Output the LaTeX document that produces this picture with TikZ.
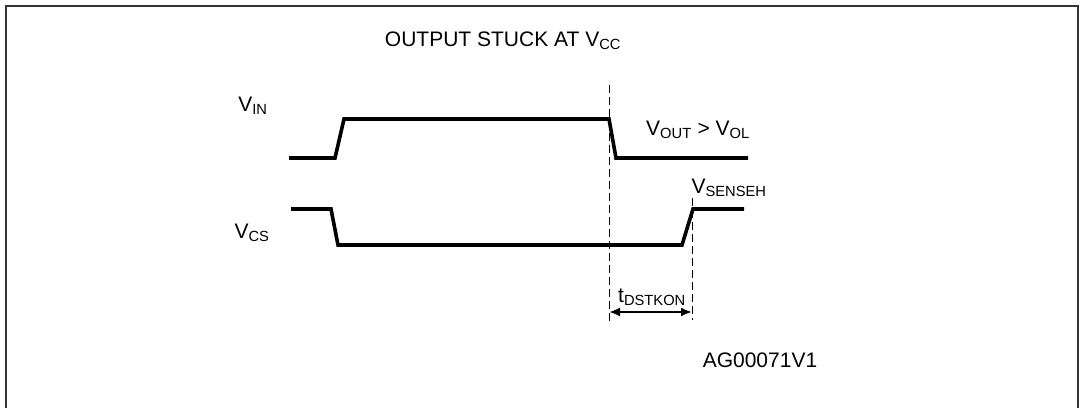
\documentclass[tikz,border=0pt]{standalone}
\usepackage{fontspec}
\setmainfont{Liberation Sans}
\usetikzlibrary{arrows.meta}
\begin{document}
\begin{tikzpicture}[x=1pt,y=-1pt,
  sig/.style={line width=3.6pt,line join=miter,line cap=butt},
  guide/.style={line width=1pt,dash pattern=on 8pt off 4pt},
  lbl/.style={font=\fontsize{21}{24}\selectfont,inner sep=0pt},
  dim/.style={line width=2pt,{Latex[length=11pt,width=9pt]}-{Latex[length=11pt,width=9pt]}}]
\useasboundingbox (0,0) rectangle (1080,408);
% frame
\draw[line width=1.6pt,black!80] (6,408) -- (6,6) -- (1078,6) -- (1078,408);
% title
\node[lbl] (title) at (503,41) {OUTPUT STUCK AT V\textsubscript{CC}};
% VIN
\node[lbl] (vin) at (253,106) {V\textsubscript{IN}};
\coordinate (a0) at (289,158);
\coordinate (a1) at (335,158);
\coordinate (a2) at (344,119);
\coordinate (a3) at (609,119);
\coordinate (a4) at (616,158);
\coordinate (a5) at (748,158);
\draw[sig] (a0) -- (a1) -- (a2) -- (a3) -- (a4) -- (a5);
\node[lbl] (vout) at (698,130) {V\textsubscript{OUT} > V\textsubscript{OL}};
% VCS
\node[lbl] (vcs) at (252,233) {V\textsubscript{CS}};
\coordinate (b0) at (291,209);
\coordinate (b1) at (331,209);
\coordinate (b2) at (338,245);
\coordinate (b3) at (682,245);
\coordinate (b4) at (693,209);
\coordinate (b5) at (744,209);
\draw[sig] (b0) -- (b1) -- (b2) -- (b3) -- (b4) -- (b5);
\node[lbl] (vsense) at (729,188) {V\textsubscript{SENSEH}};
% guides
\coordinate (g1t) at (609,85);
\coordinate (g1b) at (609,323);
\coordinate (g2t) at (692,198);
\coordinate (g2b) at (692,320);
\draw[guide] (g1t) -- (g1b);
\draw[guide] (g2t) -- (g2b);
\coordinate (d1) at (609,312);
\coordinate (d2) at (692,312);
\draw[dim] (d1) -- (d2);
\node[lbl] (tdst) at (652,297) {t\textsubscript{DSTKON}};
\node[lbl] (ag) at (760,360) {AG00071V1};
\end{tikzpicture}
\end{document}
